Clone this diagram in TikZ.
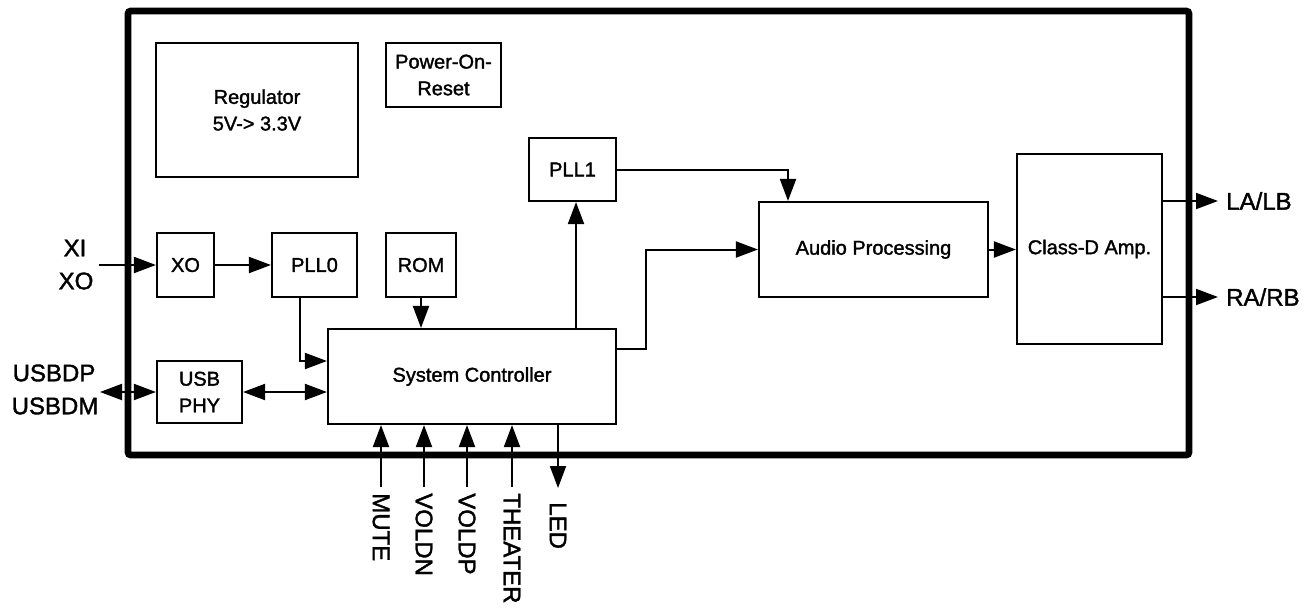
\documentclass[tikz,border=0pt]{standalone}
\usepackage{fontspec}
\setmainfont{Liberation Sans}[FakeBold=1.6]
\usetikzlibrary{arrows.meta,calc}
\begin{document}
\begin{tikzpicture}[x=0.75pt,y=-0.75pt,
  blk/.style={draw,line width=1.6pt,inner sep=0pt,align=center,font=\fontsize{15}{20}\selectfont},
  arr/.style={line width=1.5pt,-{Triangle[length=16.5pt,width=12pt]}},
  darr/.style={line width=1.5pt,{Triangle[length=16.5pt,width=12pt]}-{Triangle[length=16.5pt,width=12pt]}},
  lbl/.style={font=\fontsize{18}{20}\selectfont,inner sep=0pt},
  vlbl/.style={font=\fontsize{18}{20}\selectfont,rotate=-90,anchor=west,inner xsep=4.5pt,inner ysep=0pt},
  frame/.style={draw,line width=5pt,rounded corners=2pt,inner sep=0pt}
]
\useasboundingbox (0,0) rectangle (1314,611);

% chip outline
\node[frame,minimum width=795.75pt,minimum height=333pt] (chip) at (658.5,233) {};

% blocks
\node[blk,minimum width=151.5pt,minimum height=100.5pt] (reg) at (257,110) {Regulator\\5V-> 3.3V};
\node[blk,minimum width=86.25pt,minimum height=48pt] (por) at (443.5,75) {Power-On-\\Reset};
\node[blk,minimum width=42.75pt,minimum height=48pt] (xob) at (185.5,265) {XO};
\node[blk,minimum width=63.75pt,minimum height=48pt] (pll0) at (314.5,265) {PLL0};
\node[blk,minimum width=52.5pt,minimum height=48pt] (rom) at (421,265) {ROM};
\node[blk,minimum width=63.75pt,minimum height=46.5pt] (usb) at (199.5,392) {USB\\PHY};
\node[blk,minimum width=216pt,minimum height=71.25pt] (sc) at (472,376.5) {System Controller};
\node[blk,minimum width=65.25pt,minimum height=47.25pt] (pll1) at (572.5,169.5) {PLL1};
\node[blk,minimum width=171.75pt,minimum height=71.25pt] (audio) at (873.5,249.5) {Audio Processing};
\node[blk,minimum width=108.75pt,minimum height=142.5pt] (cd) at (1089.5,249) {Class-D Amp.};

% outside labels
\node[lbl] (xil) at (75,248) {XI};
\node[lbl] (xol) at (76,281) {XO};
\coordinate (xin) at (99,265);
\node[lbl] (usbdp) at (54,373) {USBDP};
\node[lbl] (usbdm) at (55,406) {USBDM};
\coordinate (usbin) at (100,392);
\node[lbl,anchor=west,inner xsep=6pt] (la) at (1218,201) {LA/LB};
\node[lbl,anchor=west,inner xsep=6pt] (ra) at (1218,297) {RA/RB};

\node[vlbl] (mute) at (381,487) {MUTE};
\node[vlbl] (voldn) at (424,487) {VOLDN};
\node[vlbl] (voldp) at (467,487) {VOLDP};
\node[vlbl] (theater) at (512,487) {THEATER};
\node[vlbl,inner xsep=10.5pt] (led) at (558,488) {LED};

% connectors
\draw[arr] (xin) -- (xob.west);
\draw[arr] (xob.east) -- (pll0.west);
\draw[arr] ($(pll0.south)+(-14.5,0)$) |- ($(sc.west)+(0,-15.5)$);
\draw[darr] (usbin) -- (usb.west);
\draw[darr] (usb.east) -- (sc.west |- usb.east);
\draw[arr] (rom.south) -- (rom.south |- sc.north);
\draw[arr] ($(pll1.south |- sc.north)+(3.5,0)$) -- ($(pll1.south)+(3.5,0)$);
\draw[arr] (pll1.east) -| ($(audio.north)+(-85.5,0)$);
\draw[arr] ($(sc.east)+(0,-27.5)$) -| ($(audio.west)+(-112,0)$) -- (audio.west);
\draw[arr] (audio.east) -- (cd.west |- audio.east);
\draw[arr] (cd.east |- la.west) -- (la.west);
\draw[arr] (cd.east |- ra.west) -- (ra.west);

\draw[arr] (mute.west) -- (mute.west |- sc.south);
\draw[arr] (voldn.west) -- (voldn.west |- sc.south);
\draw[arr] (voldp.west) -- (voldp.west |- sc.south);
\draw[arr] (theater.west) -- (theater.west |- sc.south);
\draw[arr] (led.west |- sc.south) -- (led.west);
\end{tikzpicture}
\end{document}
